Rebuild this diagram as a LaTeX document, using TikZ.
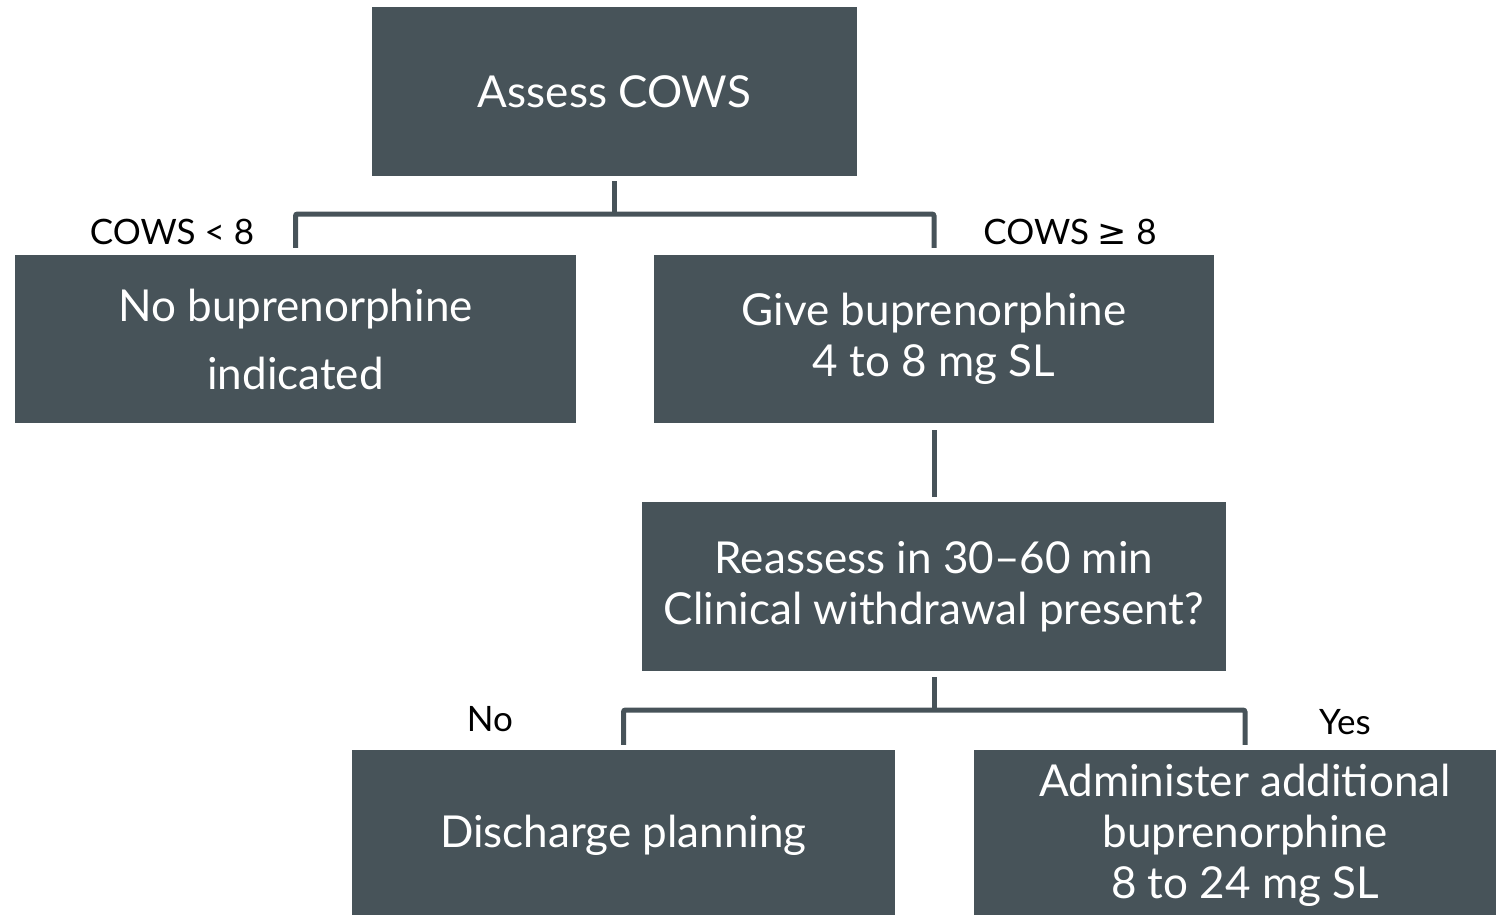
\documentclass[tikz,border=0pt]{standalone}
\usepackage{fontspec}
\setmainfont{Lato}
\newfontfamily\symfont{DejaVu Sans}
\definecolor{slate}{HTML}{475359}
\tikzset{
  stepbox/.style={fill=slate, text=white, inner sep=0pt, align=center,
    font=\fontsize{44}{51}\selectfont},
  conn/.style={draw=slate, line width=5pt, rounded corners=2pt},
  lbl/.style={text=black, inner sep=0pt, font=\fontsize{35}{40}\selectfont}
}
\begin{document}
\begin{tikzpicture}[x=1pt,y=-1pt]
\useasboundingbox (0,0) rectangle (1496,914);
% boxes
\node[stepbox, minimum width=485pt, minimum height=169pt] (assess) at (614.5,91.5) {Assess COWS};
\node[stepbox, minimum width=561pt, minimum height=168pt,
      font=\fontsize{44}{68}\selectfont] (nobup) at (295.5,339) {No buprenorphine\\indicated};
\node[stepbox, minimum width=560pt, minimum height=168pt] (give) at (934,339) {Give buprenorphine\\4 to 8 mg SL};
\node[stepbox, minimum width=584pt, minimum height=169pt] (reassess) at (934,586.5) {Reassess in 30–60 min\\Clinical withdrawal present?};
\node[stepbox, minimum width=543pt, minimum height=170pt] (discharge) at (623.5,835) {Discharge planning};
\node[stepbox, minimum width=542pt, minimum height=170pt] (admin) at (1245,835) {Administer additional\\buprenorphine\\8 to 24 mg SL};
% junctions
\coordinate (j1) at (614.5,214);
\coordinate (j2) at (934,710);
% connectors
\draw[conn] ([yshift=-5pt]assess.south) -- (j1);
\draw[conn] ([yshift=7pt]nobup.north) |- (j1) -| ([yshift=7pt]give.north);
\draw[conn] ([yshift=-7pt]give.south) -- ([yshift=5pt]reassess.north);
\draw[conn] ([yshift=-6pt]reassess.south) -- (j2);
\draw[conn] ([yshift=5pt]discharge.north) |- (j2) -| ([yshift=5pt]admin.north);
% labels
\node[lbl] (lt) at (172,232) {COWS < 8};
\node[lbl] (ge) at (1070,232) {COWS {\symfont ≥} 8};
\node[lbl] (no) at (490,719) {No};
\node[lbl] (yes) at (1345,722) {Yes};
\end{tikzpicture}
\end{document}
